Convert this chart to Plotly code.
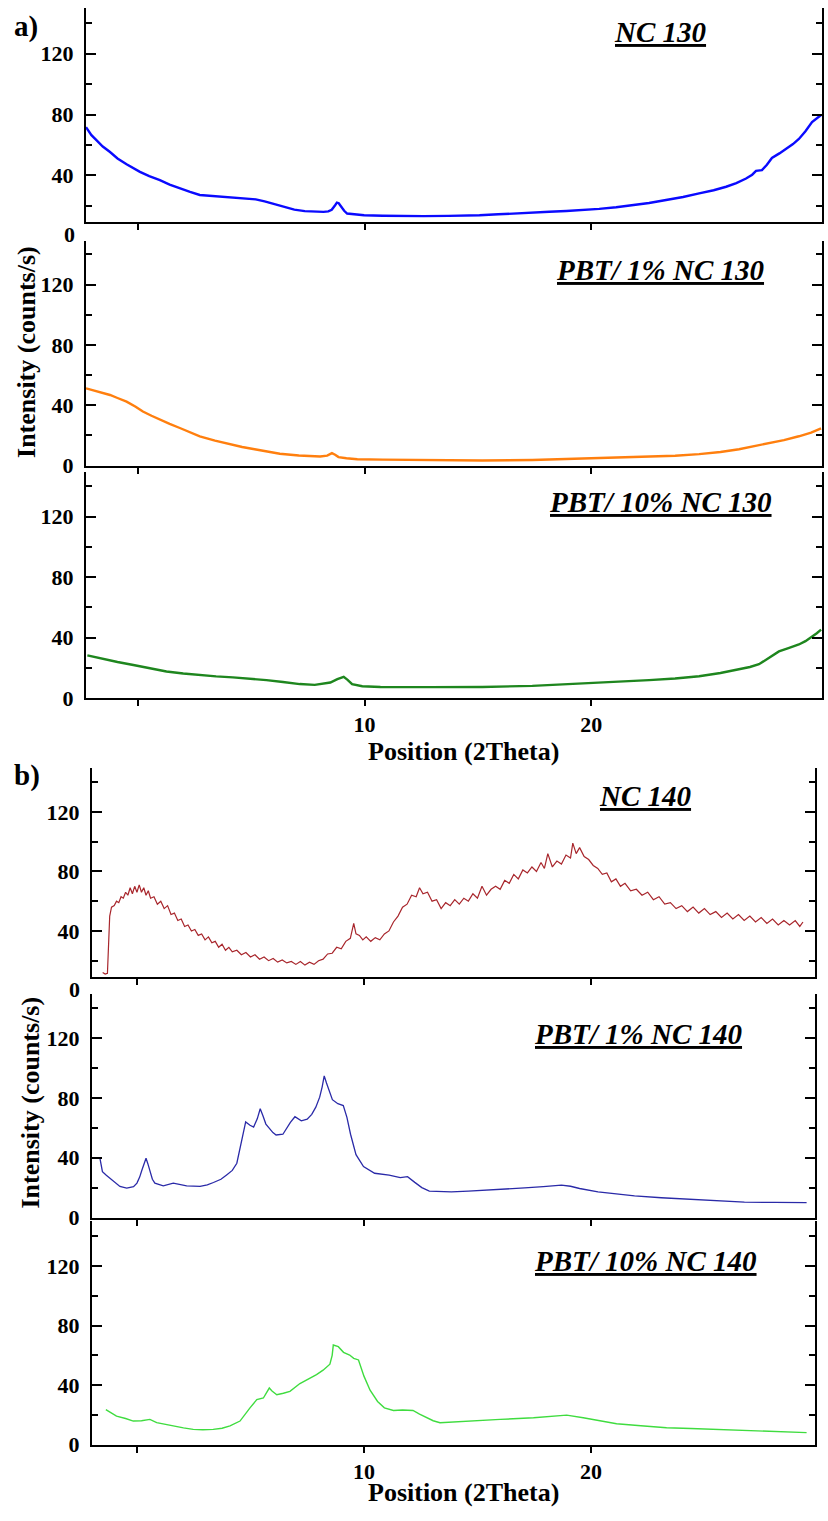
import plotly.graph_objects as go

W, H = 828, 1521

# ---------------- data ----------------
# Panel a: NC 130
nc130_x = [-2.29, -2.05, -1.82, -1.55, -1.23, -0.90, -0.50, -0.20, 0.09, 0.50, 0.97, 1.40, 1.85,
           2.30, 2.73, 3.20, 3.61, 4.20, 4.71, 5.20, 5.59, 6.05, 6.48, 6.90, 7.36, 7.80, 8.19,
           8.40, 8.55, 8.70, 8.78, 8.86, 8.94, 9.10, 9.23, 9.60, 9.98, 10.80, 11.54, 12.60,
           13.70, 14.40, 15.07, 15.90, 16.67, 17.40, 18.15, 18.90, 19.65, 20.35, 21.10, 21.81,
           22.55, 23.30, 24.05, 24.76, 25.40, 25.95, 26.40, 26.83, 27.10, 27.27, 27.53, 27.75,
           27.97, 28.30, 28.59, 28.90, 29.16, 29.45, 29.74, 29.95, 30.14]
nc130_y = [71.7, 66.5, 63.0, 59.0, 55.4, 51.2, 47.4, 44.6, 42.4, 39.6, 37.0, 34.0, 31.5,
           29.2, 27.2, 26.6, 26.3, 25.6, 25.0, 24.3, 23.0, 21.2, 19.2, 17.6, 16.6, 16.3, 16.1,
           16.4, 17.5, 20.5, 22.2, 21.8, 20.0, 16.8, 15.0, 14.3, 13.9, 13.6, 13.4, 13.3,
           13.5, 13.6, 13.9, 14.5, 15.2, 15.7, 16.2, 16.7, 17.2, 18.1, 19.1, 20.3,
           21.9, 23.9, 25.9, 28.3, 30.3, 32.6, 35.0, 38.0, 40.5, 43.0, 43.5, 47.0,
           51.5, 54.5, 57.6, 60.6, 64.0, 69.0, 75.0, 77.5, 79.7]

# Panel a: PBT/ 1% NC 130
pbt1_130_x = [-2.29, -1.80, -1.23, -0.90, -0.50, -0.10, 0.22, 0.60, 0.97, 1.40, 1.85, 2.30,
              2.73, 3.40, 4.05, 4.60, 5.15, 5.70, 6.26, 7.10, 8.04, 8.35, 8.56, 8.70, 8.85,
              9.20, 9.68, 10.80, 12.20, 13.70, 15.19, 17.40, 19.65, 21.10, 22.55, 23.70, 24.76,
              25.70, 26.52, 27.20, 27.84, 28.50, 29.16, 29.70, 30.14]
pbt1_130_y = [51.2, 49.2, 46.8, 44.8, 42.4, 39.0, 35.8, 33.0, 30.4, 27.6, 24.9, 22.0,
              19.4, 16.5, 14.0, 12.3, 10.8, 9.2, 7.8, 6.7, 6.0, 6.6, 8.2, 7.2, 5.6,
              4.8, 4.2, 3.9, 3.8, 3.5, 3.3, 3.7, 4.7, 5.1, 5.6, 6.5, 7.6,
              9.0, 10.8, 12.8, 14.8, 16.9, 19.4, 21.8, 24.7]

# Panel a: PBT/ 10% NC 130
pbt10_130_x = [-2.23, -1.60, -0.90, -0.20, 0.50, 1.26, 2.00, 2.73, 3.45, 4.19, 4.95, 5.67, 6.40,
               7.14, 7.80, 8.49, 8.80, 9.08, 9.25, 9.45, 9.90, 10.70, 12.90, 15.19, 17.40, 19.65,
               21.10, 22.55, 23.70, 24.76, 25.70, 26.52, 27.00, 27.40, 27.85, 28.28, 28.70,
               29.16, 29.45, 29.69, 29.95, 30.14]
pbt10_130_y = [28.2, 26.0, 23.8, 21.8, 19.5, 17.5, 16.2, 15.1, 14.3, 13.6, 12.8, 11.8, 10.6,
               9.2, 8.7, 10.2, 12.5, 14.0, 12.0, 9.1, 7.8, 7.3, 7.2, 7.3, 8.0, 9.5,
               10.4, 11.8, 12.9, 14.4, 16.5, 19.0, 20.5, 22.3, 26.5, 30.8, 33.0,
               35.4, 37.6, 40.0, 42.8, 45.2]

# Panel b: NC 140
nc140_x = [-1.51, -1.40, -1.30, -1.20, -1.12, -1.00, -0.90, -0.80, -0.70, -0.60, -0.50, -0.40,
           -0.30, -0.20, -0.10, 0.00, 0.10, 0.20, 0.30, 0.40, 0.50, 0.60, 0.75, 0.90, 1.05, 1.20,
           1.35, 1.50, 1.65, 1.80, 1.95, 2.10, 2.25, 2.40, 2.55, 2.70, 2.85, 3.00, 3.15, 3.30,
           3.45, 3.60, 3.75, 3.90, 4.05, 4.20, 4.40, 4.60, 4.80, 5.00, 5.20, 5.40, 5.60, 5.80,
           6.00, 6.20, 6.40, 6.60, 6.80, 7.00, 7.20, 7.40, 7.60, 7.80, 8.00, 8.20, 8.40, 8.60,
           8.80, 9.00, 9.20, 9.40, 9.55, 9.65, 9.80, 9.95, 10.10, 10.30, 10.50, 10.70, 10.90,
           11.10, 11.30, 11.50, 11.70, 11.90, 12.10, 12.30, 12.45, 12.60, 12.80, 13.00, 13.20,
           13.40, 13.60, 13.80, 14.00, 14.20, 14.40, 14.60, 14.80, 15.00, 15.20, 15.40, 15.60,
           15.80, 16.00, 16.20, 16.40, 16.60, 16.80, 17.00, 17.20, 17.40, 17.60, 17.80, 17.95,
           18.10, 18.30, 18.50, 18.70, 18.90, 19.10, 19.20, 19.35, 19.50, 19.70, 19.90, 20.10,
           20.30, 20.50, 20.70, 20.90, 21.10, 21.30, 21.50, 21.75, 22.00, 22.25, 22.50, 22.75,
           23.00, 23.25, 23.50, 23.75, 24.00, 24.25, 24.50, 24.75, 25.00, 25.25, 25.50, 25.75,
           26.00, 26.25, 26.50, 26.75, 27.00, 27.25, 27.50, 27.75, 28.00, 28.25, 28.50, 28.75,
           29.00, 29.20, 29.34]
nc140_y = [12, 11, 11.5, 50, 56, 57, 60, 59, 63, 62, 66, 64,
           69, 65, 70, 66, 71, 66, 69, 64, 67, 62, 63, 58, 60, 55,
           57, 51, 52, 47, 48, 43, 44, 40, 41, 37, 38, 34, 36, 32,
           33, 29, 31, 27, 29, 26, 27, 24, 25.5, 22.5, 24, 21, 22.5, 20,
           21.5, 19, 20.5, 18.5, 19.5, 17.5, 19.5, 17, 19, 17.5, 20, 21, 24.5, 25,
           29, 28, 33, 35, 45, 38, 37, 34, 36, 33, 35.5, 34, 38,
           40, 46, 50, 56, 58, 64, 63, 69, 65, 66, 60, 61,
           55, 59, 57, 61, 58, 62, 60, 65, 62, 70, 64, 68,
           70, 68, 74, 72, 78, 75, 81, 79, 83, 80, 86, 82,
           92, 83, 87, 85, 91, 89, 99, 92, 96, 90, 88, 84,
           82, 78, 79, 73, 75, 70, 72, 67, 68, 64, 66, 61,
           63, 58, 59, 55, 57, 53, 56, 52, 55, 51, 53, 49,
           52, 48, 51, 47, 50, 46, 49, 45, 48, 44, 47, 44,
           47, 43, 46]

# Panel b: PBT/ 1% NC 140
pbt1_140_x = [-1.63, -1.52, -1.35, -1.19, -0.95, -0.75, -0.45, -0.15, 0.00, 0.12, 0.22, 0.32,
              0.40, 0.48, 0.57, 0.68, 0.79, 1.16, 1.60, 2.19, 2.78, 3.10, 3.37, 3.70, 3.95,
              4.20, 4.40, 4.61, 4.79, 4.98, 5.14, 5.30, 5.43, 5.55, 5.68, 5.99, 6.13,
              6.43, 6.76, 6.96, 7.24, 7.50, 7.70, 7.88, 8.05, 8.16, 8.25, 8.35, 8.45, 8.61,
              8.85, 9.09, 9.25, 9.41, 9.65, 9.98, 10.47, 11.11, 11.60, 11.92, 12.24, 12.55,
              12.88, 13.85, 14.60, 15.46, 16.30, 17.08, 17.90, 18.70, 19.10, 19.50, 20.31,
              21.10, 21.92, 23.10, 24.34, 25.50, 26.76, 28.10, 29.50]
pbt1_140_y = [39.6, 30.7, 28.2, 26.3, 23.0, 20.8, 19.7, 20.6, 23.0, 27.0, 31.8, 36.5,
              39.6, 36.0, 30.7, 25.6, 23.0, 21.2, 23.0, 21.2, 20.8, 21.8, 23.4, 25.6, 28.5,
              31.5, 36.3, 51.7, 63.9, 61.7, 60.5, 66.0, 72.7, 68.0, 62.5, 56.8, 55.2,
              55.7, 63.6, 67.4, 64.7, 65.8, 69.0, 73.8, 80.5, 87.4, 94.7, 90.0, 85.1, 78.8,
              76.1, 74.9, 67.0, 55.7, 42.0, 34.1, 29.6, 28.4, 26.7, 27.3, 23.5, 20.0,
              17.6, 17.1, 17.6, 18.2, 19.2, 19.8, 20.6, 21.6, 20.9, 19.4, 17.1,
              15.6, 14.4, 13.2, 12.1, 11.1, 10.3, 10.1, 9.9]

# Panel b: PBT/ 10% NC 140
pbt10_140_x = [-1.37, -0.90, -0.50, -0.16, 0.20, 0.57, 0.87, 1.20, 1.60, 2.05, 2.48, 2.90, 3.36,
               3.75, 4.10, 4.54, 4.98, 5.28, 5.57, 5.70, 5.83, 5.95, 6.16, 6.45, 6.74, 7.18,
               7.55, 7.91, 8.20, 8.50, 8.60, 8.65, 8.87, 9.10, 9.37, 9.55, 9.76, 10.00, 10.27,
               10.60, 10.90, 11.30, 11.70, 12.16, 12.45, 12.76, 13.05, 13.35, 14.53, 16.00,
               17.47, 18.93, 19.66, 20.40, 21.13, 22.20, 23.33, 24.40, 25.53, 26.60, 27.74,
               28.60, 29.50]
pbt10_140_y = [23.5, 19.1, 17.5, 15.8, 16.0, 16.9, 14.7, 13.6, 12.5, 11.2, 10.2, 9.9, 10.2,
               11.0, 12.5, 15.8, 24.7, 30.2, 31.3, 34.5, 38.0, 36.0, 33.5, 34.5, 35.8, 41.0,
               44.0, 47.0, 50.0, 54.0, 60.0, 66.9, 65.8, 62.0, 60.2, 58.0, 56.9, 46.0, 36.5,
               29.0, 24.7, 22.9, 23.2, 22.9, 20.5, 18.0, 16.0, 14.7, 15.8, 16.9,
               18.0, 19.8, 18.0, 16.0, 14.0, 12.6, 11.3, 10.8, 10.2, 9.6, 9.1,
               8.5, 8.0]

panel_titles = ["NC 130", "PBT/ 1% NC 130", "PBT/ 10% NC 130",
                "NC 140", "PBT/ 1% NC 140", "PBT/ 10% NC 140"]
y_tickvals = [0, 40, 80, 120]
x_tickvals = [0, 10, 20]
x_ticktext = ["", "10", "20"]

series = [
    (nc130_x, nc130_y, "#0a0aff", 2.4),
    (pbt1_130_x, pbt1_130_y, "#ff7f0e", 2.4),
    (pbt10_130_x, pbt10_130_y, "#1e861e", 2.4),
    (nc140_x, nc140_y, "#a8262c", 1.2),
    (pbt1_140_x, pbt1_140_y, "#2a2aa8", 1.3),
    (pbt10_140_x, pbt10_140_y, "#3fdc3f", 1.4),
]

# ---------------- layout geometry (pixels) ----------------
panels_px = [(8, 224), (243, 470), (476, 704), (775, 985), (1003, 1228), (1232, 1457)]
y_ranges = [[9.4, 150], [-0.3, 149], [0, 149.5], [9.3, 149.3], [0, 149.2], [0, 150]]
xdom_a = [86 / W, 822 / W]
xdom_b = [92 / W, 815 / W]
xr_a = [-2.29, 30.18]
xr_b = [-1.98, 29.87]

FONT = "Liberation Serif"

def ydom(top, bot):
    return [1 - bot / H, 1 - top / H]

fig = go.Figure()
layout = dict(width=W, height=H, margin=dict(l=0, r=0, t=0, b=0),
              paper_bgcolor="white", plot_bgcolor="white", showlegend=False)

for i, (xs, ys, col, lw) in enumerate(series):
    n = i + 1
    fig.add_trace(go.Scatter(x=xs, y=ys, mode="lines", line=dict(color=col, width=lw),
                             xaxis=f"x{n}", yaxis=f"y{n}", hoverinfo="skip"))
    bottom = (i % 3 == 2)
    in_a = i < 3
    layout[f"xaxis{n}"] = dict(
        domain=xdom_a if in_a else xdom_b, range=xr_a if in_a else xr_b,
        anchor=f"y{n}", showline=True, linecolor="black", linewidth=2, mirror=False,
        ticks="outside", ticklen=6, tickwidth=2, tickcolor="black",
        tickmode="array", tickvals=x_tickvals, ticktext=x_ticktext,
        showticklabels=bottom, showgrid=False, zeroline=False,
        tickfont=dict(family=FONT, size=22, color="black", weight="bold"),
    )
    top, bot = panels_px[i]
    layout[f"yaxis{n}"] = dict(
        domain=ydom(top, bot), range=y_ranges[i], anchor=f"x{n}",
        showline=True, linecolor="black", linewidth=2, mirror="ticks",
        ticks="inside", ticklen=10, tickwidth=2, tickcolor="black",
        tickmode="array", tickvals=y_tickvals, showgrid=False, zeroline=False,
        ticklabelstandoff=6,
        minor=dict(tickmode="linear", tick0=0, dtick=20, ticks="inside", ticklen=6,
                   tickwidth=2, tickcolor="black", showgrid=False),
        tickfont=dict(family=FONT, size=22, color="black", weight="bold"),
    )

ann = []
def a(text, x, y, size, angle=0, xanchor="center", yanchor="middle"):
    ann.append(dict(text=text, x=x / W, y=1 - y / H, xref="paper", yref="paper",
                    showarrow=False, textangle=angle, xanchor=xanchor, yanchor=yanchor,
                    font=dict(family=FONT, size=size, color="black")))

title_pos = [(660, 32), (660, 272), (660, 506), (645, 803), (638, 1043), (645, 1272)]
for t, (px, py) in zip(panel_titles, title_pos):
    a(f"<b><i><u>{t}</u></i></b>", px, py, 29)

a("<b>a)</b>", 12, 27, 29, xanchor="left")
a("<b>b)</b>", 12, 782, 29, xanchor="left")
a("<b>0</b>", 77, 237, 22, xanchor="right")
a("<b>0</b>", 82, 998, 22, xanchor="right")
a("<b>Intensity (counts/s)</b>", 27, 355, 26, angle=-90)
a("<b>Intensity (counts/s)</b>", 30, 1112, 26, angle=-90)
a("<b>Position (2Theta)</b>", 463, 758, 26)
a("<b>Position (2Theta)</b>", 463, 1505, 26)

layout["annotations"] = ann
fig.update_layout(**layout)
fig.write_html("out.html")
